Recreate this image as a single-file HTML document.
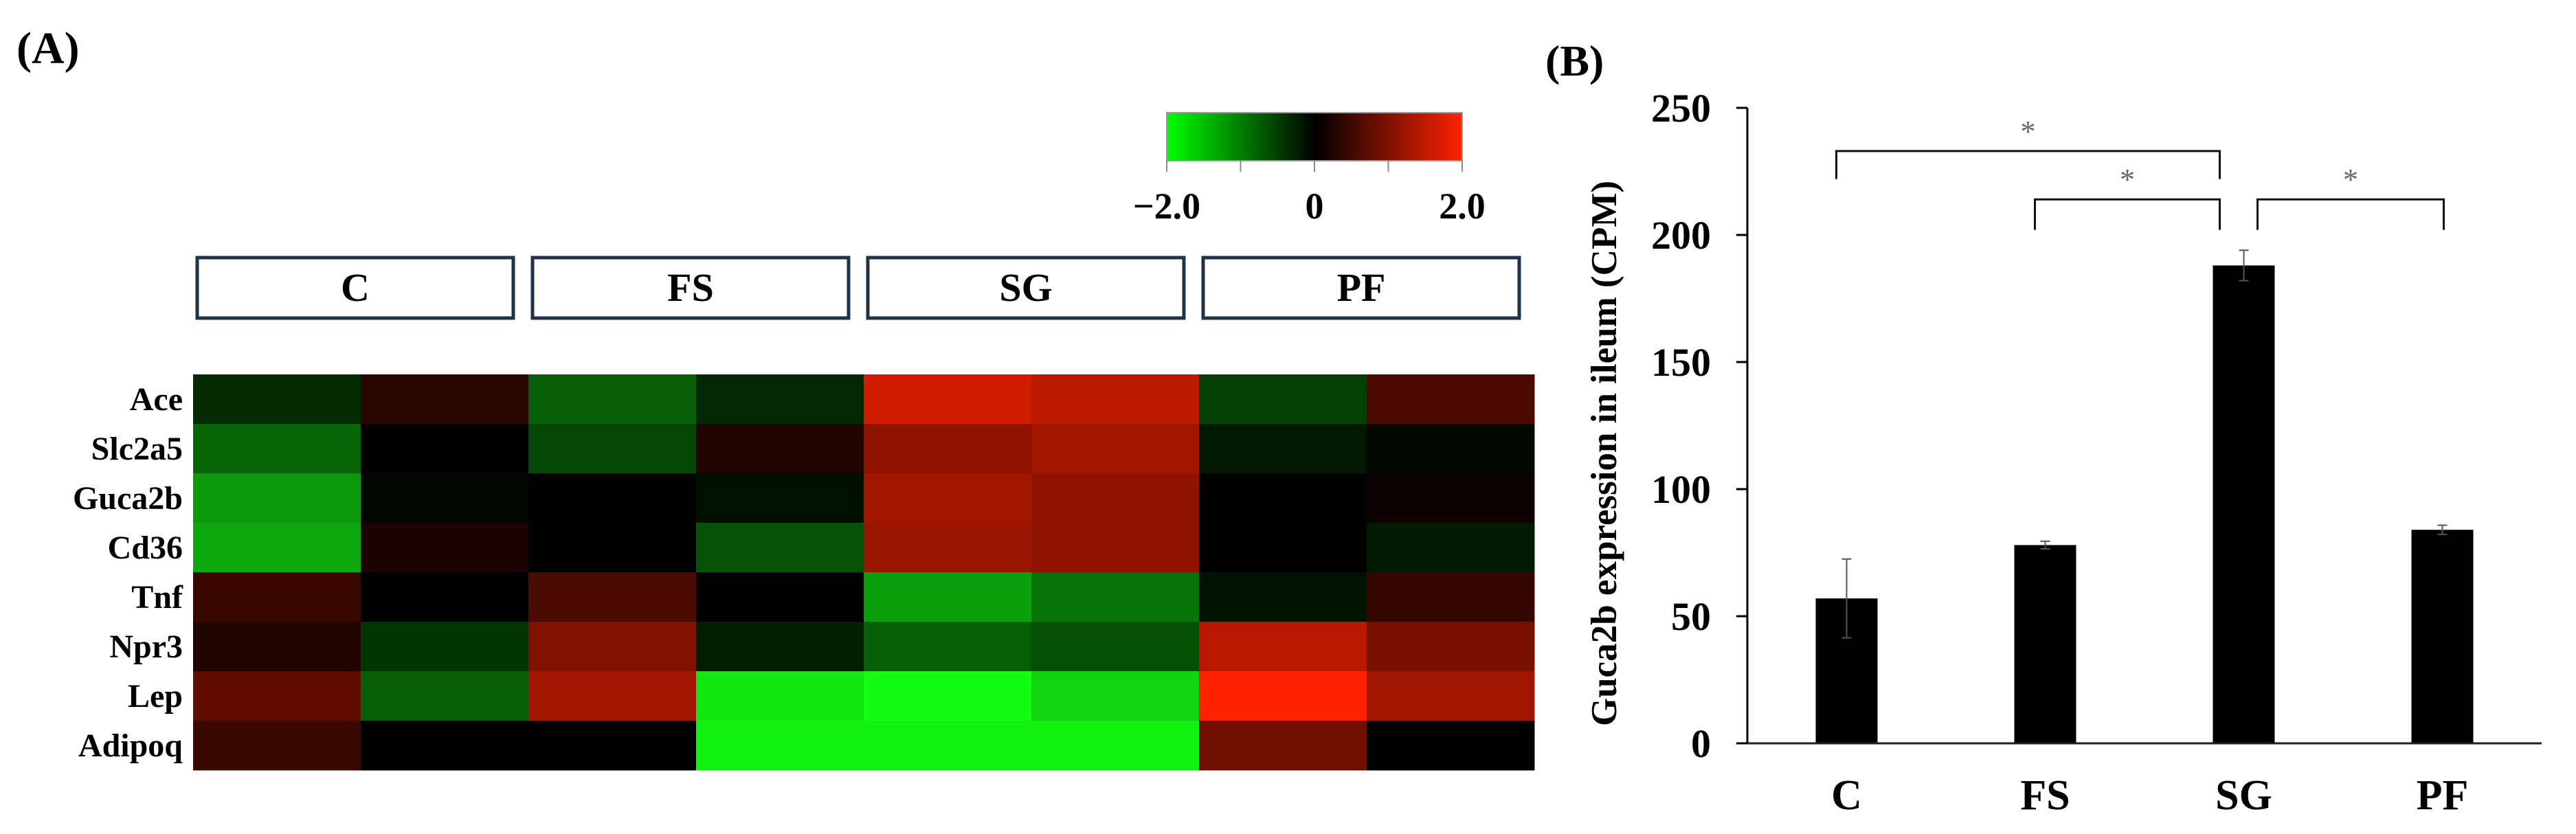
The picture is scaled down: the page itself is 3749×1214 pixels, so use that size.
<!DOCTYPE html>
<html><head><meta charset="utf-8"><style>
html,body{margin:0;padding:0;background:#fff;}
svg{display:block;font-family:"Liberation Serif",serif;font-weight:bold;}
</style></head><body>
<svg id="fig" width="3749" height="1214" viewBox="0 0 3749 1214" xmlns="http://www.w3.org/2000/svg">
<defs><linearGradient id="cg" x1="0" x2="1" y1="0" y2="0">
<stop offset="0" stop-color="#00ff00"/><stop offset="0.5" stop-color="#000"/><stop offset="1" stop-color="#ff2200"/></linearGradient></defs>
<text x="24" y="92" font-size="66">(A)</text>
<text x="2249" y="110" font-size="64">(B)</text>
<g>
<rect x="1698" y="164" width="430" height="70" fill="url(#cg)" stroke="#999" stroke-width="2"/>
<g id="cticks"></g>
</g>
<g id="groups"></g>
<g id="heat"></g>
<g id="bars"></g>
</svg>
<script>
const genes=["Ace","Slc2a5","Guca2b","Cd36","Tnf","Npr3","Lep","Adipoq"];
const groups=["C","FS","SG","PF"];
const zAce=[-0.33,0.33,-0.74,-0.31,1.63,1.47,-0.5,0.58];
const zSlc2a5=[-0.8,0,-0.54,0.25,1.11,1.27,-0.19,-0.06];
const zGuca2b=[-1.19,-0.05,0,-0.13,1.27,1.13,0,0.1];
const zCd36=[-1.31,0.2,0,-0.64,1.21,1.11,0,-0.2];
const zTnf=[0.44,0,0.58,0,-1.25,-0.9,-0.16,0.42];
const zNpr3=[0.25,-0.42,1.02,-0.24,-0.75,-0.63,1.44,0.94];
const zLep=[0.75,-0.75,1.25,-1.82,-1.98,-1.66,2.0,1.25];
const zAdipoq=[0.45,0,0,-1.9,-1.9,-1.9,0.88,0];
const heatRows=[zAce,zSlc2a5,zGuca2b,zCd36,zTnf,zNpr3,zLep,zAdipoq];
const scaleTicks=["\u22122.0","0","2.0"];
const scaleVals=[-2,0,2];

const barCats=["C","FS","SG","PF"];
const barVals=[57,78,188,84];
const barErrs=[15.5,1.5,6,1.8];
const yTicks=[0,50,100,150,200,250];
const sigPairs=[[0,2,233,222],[1,2,214,202],[2,3,214,202]];

const NS="http://www.w3.org/2000/svg";
function mk(tag,attrs,parent,text){const e=document.createElementNS(NS,tag);for(const k in attrs)e.setAttribute(k,attrs[k]);if(text!==undefined)e.textContent=text;parent.appendChild(e);return e;}
function col(v){v=Math.max(-2,Math.min(2,v));
 if(v>=0){const r=Math.round(v/2*255),g=Math.round(v/2*34);return `rgb(${r},${g},0)`;}
 const g=Math.round(-v/2*255),o=Math.round(g*0.07);return `rgb(${o},${g},${o})`;}

const ct=document.getElementById('cticks');
const sx=v=>1698+(v+2)/4*430;
[-2,-1,0,1,2].forEach(v=>{const l=mk('line',{x1:sx(v),x2:sx(v),y1:234,y2:250,stroke:'#888','stroke-width':2},ct);

});
scaleVals.forEach((v,i)=>{const t=mk('text',{x:sx(v),y:318,'font-size':54,'text-anchor':'middle'},ct,scaleTicks[i]);

});

const gb=document.getElementById('groups');
const hx0=281,cw=244,hy0=545,rh=72;
groups.forEach((g,i)=>{const x=hx0+i*2*cw+6,w=2*cw-28;
const r=mk('rect',{x:x,y:375,width:w,height:88,fill:'#fff',stroke:'#1f3347','stroke-width':5},gb);


const t=mk('text',{x:x+w/2,y:438,'font-size':58,'text-anchor':'middle'},gb,g);

});

const hm=document.getElementById('heat');
heatRows.forEach((row,ri)=>{
 const t=mk('text',{x:266,y:hy0+ri*rh+rh/2+16,'font-size':48,'text-anchor':'end'},hm,genes[ri]);
 
 
 row.forEach((v,ci)=>{const c=mk('rect',{x:hx0+ci*cw,y:hy0+ri*rh,width:cw+0.5,height:rh+0.5,fill:col(v)},hm);
 
 });
});

const bg=document.getElementById('bars');
const ax0=2543,ax1=3699,y0=1082,pxPer=3.7;
const yS=v=>y0-v*pxPer;
const band=(ax1-ax0)/barCats.length;
const xC=i=>ax0+band*(i+0.5);
const ya=mk('line',{x1:ax0,x2:ax0,y1:yS(250),y2:y0,stroke:'#000','stroke-width':3},bg);


yTicks.forEach(v=>{const l=mk('line',{x1:ax0-16,x2:ax0,y1:yS(v),y2:yS(v),stroke:'#000','stroke-width':3},bg);


const t=mk('text',{x:2490,y:yS(v)+20,'font-size':58,'text-anchor':'end'},bg,String(v));

});
barVals.forEach((v,i)=>{const b=mk('rect',{x:xC(i)-45,y:yS(v),width:90,height:y0-yS(v),fill:'#000'},bg);


const e=barErrs[i];
const eb=mk('path',{d:`M${xC(i)} ${yS(v+e)}V${yS(v-e)}M${xC(i)-7} ${yS(v+e)}H${xC(i)+7}M${xC(i)-7} ${yS(v-e)}H${xC(i)+7}`,stroke:'#555','stroke-width':2,fill:'none'},bg);


const t=mk('text',{x:xC(i),y:1178,'font-size':62,'text-anchor':'middle'},bg,barCats[i]);

});
const xa=mk('line',{x1:ax0,x2:ax1,y1:y0,y2:y0,stroke:'#222','stroke-width':3},bg);


sigPairs.forEach(p=>{const xa_=xC(p[0])+(p[0]===2?20:-15),xb=xC(p[1])-(p[1]===2?35:-2);
const yt=yS(p[2]),yl=yS(p[3]);
const br=mk('path',{d:`M${xa_} ${yl}V${yt}H${xb}V${yl}`,stroke:'#111','stroke-width':3,fill:'none'},bg);


const s=mk('text',{x:(xa_+xb)/2,y:yt-14,'font-size':44,'font-weight':'normal','text-anchor':'middle',fill:'#666'},bg,'*');

});
const yt=mk('text',{x:0,y:0,'font-size':53,'text-anchor':'middle',transform:'translate(2352,660) rotate(-90)'},bg,'Guca2b expression in ileum (CPM)');


</script>
</body></html>
